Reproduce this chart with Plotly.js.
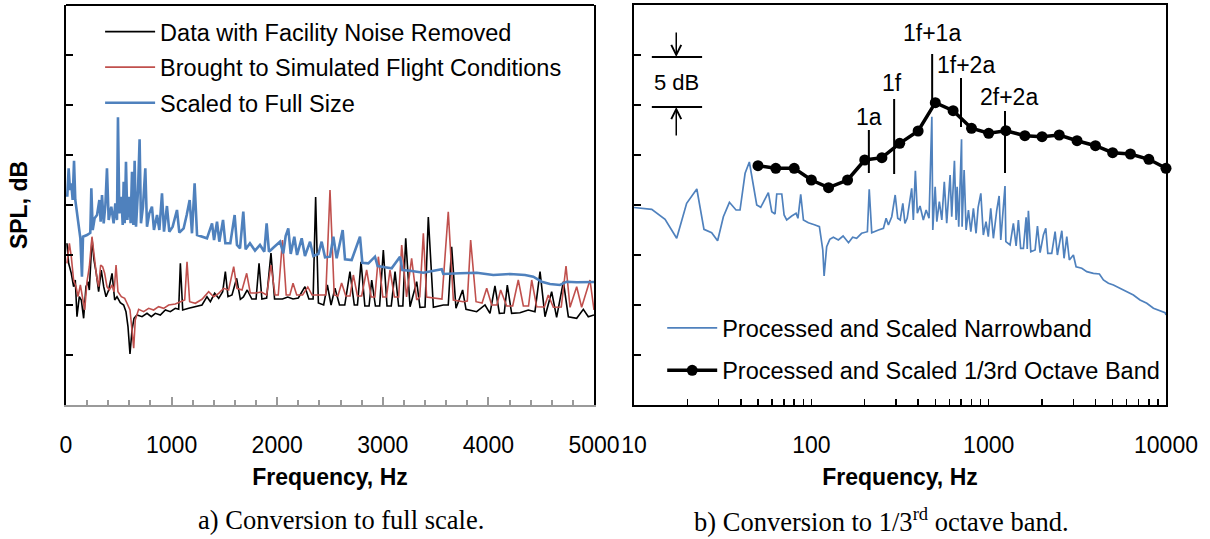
<!DOCTYPE html>
<html><head><meta charset="utf-8">
<script src="https://cdn.plot.ly/plotly-3.0.1.min.js"></script>
<style>html,body{margin:0;padding:0;background:#fff}#chart{width:1210px;height:539px}</style>
</head><body><div id="chart"></div>
<script>
// ---------- Panel a) : linear frequency, narrowband spectra ----------
const blackLeft = [[9,66.17],[25,64.17],[50,63.17],[72,61.83],[88,62.5],[104,58.83],[126,60.83],[145,60.5],[167,58.67],[189,61.83],[208,62.33],[221,61.5],[246,66.67],[265,64.5],[287,63.17],[309,61.33],[334,63.5],[357,61.83],[379,60.83],[404,61.5],[436,63.17],[461,60.5],[483,60.83],[514,60.23],[546,60.0],[568,59.33],[587,57.83],[606,55.1],[625,57.5],[644,58.67],[672,59.0],[720,58.83],[767,59.17],[808,58.83],[846,59.17],[893,59.0],[941,59.5],[988,59.33],[1035,59.67],[1067,59.57],[1083,64.17],[1105,59.5],[1162,59.67],[1225,59.83],[1288,60.0],[1335,60.83],[1367,60.33],[1408,61.17],[1446,60.67],[1484,61.33],[1509,63.33],[1534,60.83],[1572,61.0],[1616,62.67],[1651,60.57],[1680,60.8],[1716,61.5],[1760,60.6],[1800,60.6],[1828,64.17],[1855,60.6],[1900,60.7],[1941,65.2],[1975,60.6],[2050,60.6],[2100,60.8],[2150,60.6],[2200,60.7],[2263,61.83],[2300,60.6],[2340,60.6],[2364,70.8],[2390,60.2],[2440,60.0],[2475,62.0],[2510,60.0],[2547,61.67],[2590,60.0],[2640,60.0],[2689,63.33],[2730,60.0],[2760,60.0],[2794,64.33],[2830,59.9],[2870,59.9],[2895,62.5],[2930,59.9],[2970,59.9],[3005,65.5],[3040,59.9],[3080,59.9],[3116,63.33],[3150,59.9],[3190,59.9],[3217,66.67],[3258,59.83],[3321,62.33],[3352,59.77],[3400,59.8],[3431,68.8],[3479,59.77],[3573,60.0],[3620,60.0],[3652,65.83],[3693,59.67],[3756,61.5],[3788,59.57],[3889,59.33],[3968,60.0],[4015,59.17],[4062,61.9],[4104,59.17],[4150,59.2],[4179,62.0],[4220,59.17],[4299,59.23],[4378,59.5],[4441,59.33],[4489,63.33],[4536,58.83],[4599,61.33],[4646,58.77],[4710,62.33],[4757,58.83],[4836,58.67],[4899,59.57],[4946,58.83],[5000,59.0]];

const redLeft = [[9,64.17],[32,66.17],[50,64.83],[72,62.5],[95,61.83],[114,60.83],[136,62.0],[158,60.5],[177,59.5],[199,62.33],[221,63.83],[246,66.83],[268,64.83],[290,62.83],[309,61.83],[328,64.0],[347,63.83],[366,63.17],[388,61.83],[410,61.5],[436,62.0],[455,61.33],[474,64.0],[492,61.33],[524,60.83],[556,60.67],[581,60.1],[606,59.5],[625,57.5],[641,55.67],[656,58.5],[688,59.57],[735,59.33],[783,59.67],[830,59.5],[877,59.83],[925,59.67],[972,60.0],[1035,60.1],[1098,60.33],[1124,60.5],[1146,64.33],[1171,60.33],[1225,60.17],[1288,60.57],[1351,61.33],[1398,60.83],[1446,61.17],[1493,61.67],[1540,61.5],[1588,63.83],[1619,61.67],[1667,61.5],[1711,63.17],[1745,61.2],[1800,61.2],[1850,61.3],[1900,61.0],[1941,64.0],[1980,61.0],[2010,61.0],[2050,66.5],[2085,61.0],[2120,61.0],[2150,62.17],[2185,61.0],[2240,61.0],[2290,61.8],[2330,61.0],[2400,61.0],[2460,61.0],[2500,71.5],[2540,61.0],[2575,60.9],[2610,62.2],[2650,60.9],[2690,60.9],[2721,63.0],[2760,60.9],[2800,60.9],[2847,63.5],[2890,60.8],[2925,60.8],[2958,64.83],[3000,60.8],[3035,60.8],[3068,63.5],[3110,60.8],[3150,60.8],[3179,66.0],[3225,60.8],[3273,64.67],[3321,60.5],[3350,60.8],[3384,67.17],[3415,60.8],[3510,60.67],[3560,60.6],[3620,69.33],[3668,60.5],[3762,60.33],[3800,60.4],[3832,66.5],[3883,60.33],[3940,60.2],[3984,61.67],[4031,60.0],[4080,60.0],[4116,61.5],[4173,59.9],[4230,59.9],[4283,62.5],[4331,59.9],[4380,59.9],[4410,62.5],[4457,59.83],[4530,59.8],[4567,61.0],[4615,59.77],[4690,59.8],[4735,63.9],[4773,59.77],[4836,61.83],[4883,59.77],[4962,62.5],[5000,59.5]];

const blueLeft = [[12,70.83],[25,73.67],[38,71.5],[50,72.17],[63,70.5],[76,74.43],[88,70.5],[104,69.17],[120,67.83],[136,66.67],[151,62.83],[161,66.83],[199,67.0],[230,67.23],[240,71.67],[253,67.5],[271,68.67],[294,69.0],[316,70.5],[328,68.33],[341,71.0],[357,68.17],[373,70.0],[388,73.67],[404,68.5],[429,69.83],[451,68.17],[467,70.17],[483,68.5],[492,78.77],[505,69.17],[524,70.83],[537,68.0],[546,72.33],[556,68.17],[568,74.33],[581,68.5],[600,70.83],[612,68.17],[625,73.33],[638,68.0],[650,74.43],[663,67.83],[682,71.5],[697,76.57],[710,68.17],[729,69.83],[751,73.67],[767,67.83],[789,69.17],[814,69.83],[833,67.5],[862,69.0],[884,67.5],[909,71.17],[928,67.33],[956,69.9],[978,67.33],[1010,67.83],[1051,69.5],[1073,67.23],[1114,67.67],[1143,69.0],[1171,70.5],[1193,67.17],[1218,72.17],[1241,67.0],[1288,66.83],[1335,66.67],[1383,68.17],[1402,66.5],[1430,68.33],[1452,66.33],[1487,68.5],[1509,66.17],[1556,66.17],[1597,69.0],[1619,66.0],[1648,65.67],[1679,69.33],[1701,65.57],[1742,66.17],[1790,65.43],[1837,66.0],[1878,65.33],[1900,68.17],[1922,65.33],[1973,65.83],[2027,66.33],[2058,65.17],[2080,66.9],[2105,67.67],[2128,65.1],[2162,66.83],[2188,65.0],[2232,66.67],[2263,64.9],[2311,66.33],[2342,64.9],[2390,65.1],[2421,66.33],[2453,64.77],[2500,64.83],[2532,66.83],[2563,64.67],[2620,67.5],[2642,64.57],[2705,64.5],[2784,66.83],[2806,64.23],[2863,64.17],[2926,64.83],[2951,63.9],[3021,63.77],[3084,63.67],[3163,64.83],[3185,63.5],[3258,63.43],[3384,63.23],[3558,63.57],[3573,63.1],[3731,63.17],[3889,63.23],[4046,63.0],[4205,63.1],[4347,63.0],[4425,62.83],[4505,62.33],[4583,62.1],[4678,62.0],[4741,62.33],[4836,62.27],[4931,62.33],[5000,62.3]];

// ---------- Panel b) : log frequency ----------
const blueRight = [[10,69.75],[10.35,69.73],[12.58,69.57],[14.96,68.57],[17.4,66.67],[19.8,70.17],[22.6,71.6],[24.8,67.57],[27.4,67.23],[29.6,66.43],[31.9,68.83],[34.5,70.27],[37.6,69.5],[39.6,69.5],[42.3,73.17],[44.7,74.3],[46.7,72.33],[49.2,70.0],[51.8,69.77],[54.8,70.67],[57.2,71.23],[59.8,69.33],[62.4,69.1],[63.8,71.1],[68.1,71.1],[70.2,69.0],[72.6,68.5],[77.5,68.9],[82,69.17],[84,68.67],[87.1,71.07],[90.2,68.5],[96.2,68.23],[105,68.0],[111,67.83],[116,65.5],[118,62.9],[122,65.83],[127,66.57],[133,66.77],[142,66.5],[151,66.9],[162,66.23],[171,66.77],[180,66.67],[192,67.17],[207,67.33],[212,71.57],[219,67.23],[239,67.5],[255,67.67],[264,68.67],[272,68.0],[284,68.83],[297,71.0],[307,68.67],[317,68.5],[328,70.17],[337,68.17],[347,68.67],[368,71.67],[376,68.5],[386,73.43],[396,69.17],[410,69.9],[428,68.5],[444,69.5],[461,68.67],[478,78.83],[484,67.5],[499,71.83],[510,68.33],[527,70.33],[544,68.5],[562,72.33],[580,68.17],[606,73.0],[619,68.83],[641,74.43],[655,68.5],[664,71.83],[678,67.83],[703,76.57],[708,67.83],[727,73.5],[746,67.5],[769,69.5],[793,67.33],[820,69.67],[849,67.17],[872,69.77],[903,71.17],[933,67.0],[966,68.33],[995,66.83],[1027,69.67],[1063,66.67],[1111,69.5],[1145,70.9],[1170,66.5],[1236,71.9],[1250,66.33],[1320,66.0],[1378,68.17],[1428,65.9],[1471,68.5],[1515,65.67],[1570,65.67],[1626,68.77],[1650,65.6],[1675,69.43],[1728,65.33],[1827,65.5],[1884,67.9],[1950,65.23],[2035,67.0],[2099,67.67],[2155,65.17],[2268,65.17],[2369,67.33],[2441,65.0],[2585,67.43],[2661,64.67],[2757,66.83],[2851,64.5],[3004,65.0],[3111,63.83],[3350,63.67],[3575,63.33],[3896,63.17],[4211,63.1],[4436,62.5],[4734,62.17],[5052,62.0],[5509,61.67],[6008,61.33],[6548,61.0],[7138,60.5],[7794,60.17],[8494,59.67],[9208,59.43],[9880,59.23],[10000,59.0]];

const octaveHz = [50,63,80,100,125,160,200,250,315,400,500,630,800,1000,1250,1600,2000,2500,3150,4000,5000,6300,8000,10000];
const octaveDb = [73.93,73.67,73.67,72.5,71.73,72.5,74.5,74.73,76.17,77.4,80.23,79.43,77.67,77.17,77.43,76.93,76.83,77.0,76.43,75.93,75.23,75.1,74.57,73.67];

// tone markers: label, frequency, line bottom/top (dB), label position (Hz, dB)
const toneLabels = ["1a","1f","1f+1a","1f+2a","2f+2a"];
const toneHz     = [211, 293, 480, 698, 1236];
const toneLow    = [73.2, 73.1, 80.2, 77.8, 73.2];
const toneHigh   = [77.5, 80.6, 85.1, 82.7, 79.4];
const toneTextHz = [212, 285, 480, 745, 1304];
const toneTextDb = [78.8, 82.2, 87.2, 84.0, 80.8];

// 5 dB scale bracket
const bracketHz = [12.6, 24.2];
const bracketDb = [84.8, 79.8];
const bracketMidHz = 17.3;

const leftTicks = [0,1000,2000,3000,4000,5000];
const yTicks = [55,60,65,70,75,80,85];
const logTicks = [], logText = [];
[10,100,1000].forEach(d => { for (let k=1;k<10;k++){ logTicks.push(d*k); logText.push(k===1? String(d):''); } });
logTicks.push(10000); logText.push('10000');

const FONT = "Liberation Sans, Arial, sans-serif";
const SERIF = "Liberation Serif, Times New Roman, serif";
const BLUE = "#4f81bd", RED = "#c0504d";

const traces = [
  {x: blackLeft.map(p=>p[0]), y: blackLeft.map(p=>p[1]), type:'scatter', mode:'lines', name:'Data with Facility Noise Removed',
   line:{color:'#000', width:1.6}, xaxis:'x', yaxis:'y', legend:'legend', legendgroup:'a1'},
  {x: redLeft.map(p=>p[0]), y: redLeft.map(p=>p[1]), type:'scatter', mode:'lines', name:'Brought to Simulated Flight Conditions',
   line:{color:RED, width:1.6}, xaxis:'x', yaxis:'y', legend:'legend', legendgroup:'a2'},
  {x: blueLeft.map(p=>p[0]), y: blueLeft.map(p=>p[1]), type:'scatter', mode:'lines', name:'Scaled to Full Size',
   line:{color:BLUE, width:2.6}, xaxis:'x', yaxis:'y', legend:'legend', legendgroup:'a3'},
  {x: blueRight.map(p=>p[0]), y: blueRight.map(p=>p[1]), type:'scatter', mode:'lines', name:'Processed and Scaled Narrowband',
   line:{color:BLUE, width:1.7}, xaxis:'x2', yaxis:'y2', legend:'legend2', legendgroup:'b1'},
  {x: octaveHz, y: octaveDb, type:'scatter', mode:'lines+markers', name:'Processed and Scaled 1/3rd Octave Band',
   line:{color:'#000', width:3.5}, marker:{color:'#000', size:11}, cliponaxis:false,
   xaxis:'x2', yaxis:'y2', legend:'legend2', legendgroup:'b2'}
];
// tone marker lines
const tx=[], ty=[];
toneHz.forEach((f,i)=>{ tx.push(f,f,null); ty.push(toneLow[i],toneHigh[i],null); });
traces.push({x:tx, y:ty, type:'scatter', mode:'lines', line:{color:'#000', width:2}, showlegend:false, xaxis:'x2', yaxis:'y2', hoverinfo:'skip'});
traces.push({x:[bracketHz[0],bracketHz[1],null,bracketHz[0],bracketHz[1]], y:[bracketDb[0],bracketDb[0],null,bracketDb[1],bracketDb[1]],
  type:'scatter', mode:'lines', line:{color:'#000', width:2}, showlegend:false, xaxis:'x2', yaxis:'y2', hoverinfo:'skip', cliponaxis:false});

const annotations = [];
toneLabels.forEach((t,i)=>annotations.push({text:t, x:Math.log10(toneTextHz[i]), y:toneTextDb[i], xref:'x2', yref:'y2',
  xanchor:'center', showarrow:false, font:{family:FONT, size:23, color:'#000'}}));
annotations.push({text:'5 dB', x:Math.log10(bracketMidHz), y:(bracketDb[0]+bracketDb[1])/2, xref:'x2', yref:'y2', showarrow:false,
  xanchor:'center', font:{family:FONT, size:22, color:'#000'}});
annotations.push({text:'', x:Math.log10(bracketMidHz), y:bracketDb[0], xref:'x2', yref:'y2', showarrow:true, ax:0, ay:-26,
  arrowhead:5, arrowsize:1.3, arrowwidth:1.5, arrowcolor:'#000'});
annotations.push({text:'', x:Math.log10(bracketMidHz), y:bracketDb[1], xref:'x2', yref:'y2', showarrow:true, ax:0, ay:30,
  arrowhead:5, arrowsize:1.3, arrowwidth:1.5, arrowcolor:'#000'});
annotations.push({text:'a) Conversion to full scale.', xref:'paper', yref:'paper', x:0.25, y:-0.2875, xanchor:'center', yanchor:'middle',
  showarrow:false, font:{family:SERIF, size:26.5, color:'#000'}});
annotations.push({text:'b) Conversion to 1/3<sup>rd</sup> octave band.', xref:'paper', yref:'paper', x:0.741, y:-0.2875, xanchor:'center',
  yanchor:'middle', showarrow:false, font:{family:SERIF, size:26.5, color:'#000'}});

const layout = {
  width:1210, height:539,
  margin:{l:66, r:44, t:5, b:134},
  paper_bgcolor:'#fff', plot_bgcolor:'#fff',
  font:{family:FONT, size:23, color:'#000'},
  showlegend:true,
  xaxis:{domain:[0,0.48], range:[0,5000], tickvals:leftTicks, ticks:'inside', ticklen:8, tickwidth:2, tickcolor:'#9a9a9a',
    minor:{dtick:200, ticks:'inside', ticklen:5, tickwidth:2, tickcolor:'#9a9a9a', showgrid:false},
    showline:true, linecolor:'#9a9a9a', linewidth:2, showgrid:false, zeroline:false, ticklabelstandoff:18,
    tickfont:{size:23}, title:{text:'Frequency, Hz', font:{size:23, weight:'bold'}, standoff:12}},
  yaxis:{domain:[0,1], range:[50,90], tickvals:yTicks, showticklabels:false, ticks:'inside', ticklen:7, tickwidth:2, tickcolor:'#000',
    showline:true, mirror:true, linecolor:'#000', linewidth:2, showgrid:false, zeroline:false,
    title:{text:'SPL, dB', font:{size:23, weight:'bold'}, standoff:30}},
  xaxis2:{domain:[0.5164,1], type:'log', range:[1,4], tickvals:logTicks, ticktext:logText, ticks:'inside', ticklen:6, tickwidth:1.5,
    tickcolor:'#000', showline:true, mirror:true, linecolor:'#000', linewidth:2, showgrid:false, zeroline:false, anchor:'y2',
    ticklabelstandoff:18, tickfont:{size:23}, title:{text:'Frequency, Hz', font:{size:23, weight:'bold'}, standoff:12}},
  yaxis2:{domain:[0,1], range:[50,90], tickvals:yTicks, showticklabels:false, ticks:'inside', ticklen:7, tickwidth:2, tickcolor:'#000',
    showline:true, mirror:true, linecolor:'#000', linewidth:2, showgrid:false, zeroline:false, anchor:'x2'},
  legend:{x:0.031, y:0.988, xanchor:'left', yanchor:'top', bgcolor:'rgba(0,0,0,0)', font:{family:FONT, size:23.5},
    tracegroupgap:2, itemwidth:50},
  legend2:{x:0.542, y:0.03, xanchor:'left', yanchor:'bottom', bgcolor:'rgba(0,0,0,0)', font:{family:FONT, size:23.5},
    tracegroupgap:9, itemwidth:50},
  shapes:[{type:'line', xref:'x domain', yref:'y domain', x0:0, x1:1, y0:1, y1:1, line:{color:'#000', width:2}}],
  annotations: annotations
};
Plotly.newPlot('chart', traces, layout, {staticPlot:true});
</script></body></html>
